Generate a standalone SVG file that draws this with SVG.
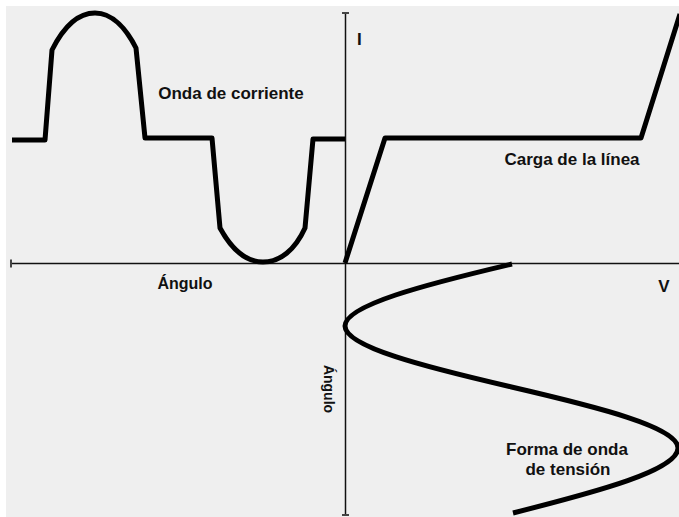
<svg xmlns="http://www.w3.org/2000/svg" width="679" height="517" viewBox="0 0 679 517">
<style>
.wave{fill:none;stroke:#000;stroke-width:5;stroke-linejoin:round;stroke-linecap:butt}
.axis{fill:none;stroke:#111;stroke-width:1.5}
.tick{fill:none;stroke:#444;stroke-width:2}
.lbl{font-family:"Liberation Sans",Arial,sans-serif;font-weight:bold;font-size:17px;fill:#111}
.ax{font-family:"Liberation Sans",Arial,sans-serif;font-weight:bold;fill:#111}
</style>
<rect x="0" y="0" width="679" height="517" fill="#ffffff"/>
<rect x="6" y="6" width="673" height="511" fill="#efefef"/>
<g id="axes">
<line class="axis" x1="11" y1="263.5" x2="679" y2="263.5"/>
<line class="tick" x1="11" y1="259.5" x2="11" y2="267.5"/>
<line class="axis" x1="345.5" y1="13" x2="345.5" y2="515"/>
<line class="tick" x1="342" y1="13" x2="349" y2="13"/>
<line class="tick" x1="342" y1="515" x2="349" y2="515"/>
</g>
<g id="current-wave">
<path class="wave" d="M12,140 L45,140 L52,50 C62,30 76,13 95,13 C113,13 127,30 136,48 L145,138 L212,138 L220,228 C232,250 246,262 263,262 C280,262 295,250 305,228 L313,139 L345,139"/>
</g>
<g id="load-line">
<path class="wave" d="M345,263 L385,138 L641,138 L680,14"/>
</g>
<g id="voltage-wave">
<path class="wave" d="M512,264 C424.3,284.7 345,305.3 345,326 C345,346.7 424.3,366.8 511.5,387 C598.7,407.2 678,427.3 678,448 C678,470 598.7,491.3 513,513"/>
</g>
<g id="labels">
<text class="lbl" x="231" y="99" text-anchor="middle">Onda de corriente</text>
<text class="lbl" x="572" y="165" text-anchor="middle">Carga de la línea</text>
<text class="lbl" x="357" y="45">I</text>
<text class="lbl" x="664" y="292" text-anchor="middle">V</text>
<text class="ax" x="185" y="289" font-size="16" text-anchor="middle">Ángulo</text>
<text class="ax" font-size="14" text-anchor="middle" transform="translate(324,389) rotate(90)">Ángulo</text>
<text class="lbl" x="567" y="455" text-anchor="middle">Forma de onda</text>
<text class="lbl" x="568" y="475" text-anchor="middle">de tensión</text>
</g>
</svg>
